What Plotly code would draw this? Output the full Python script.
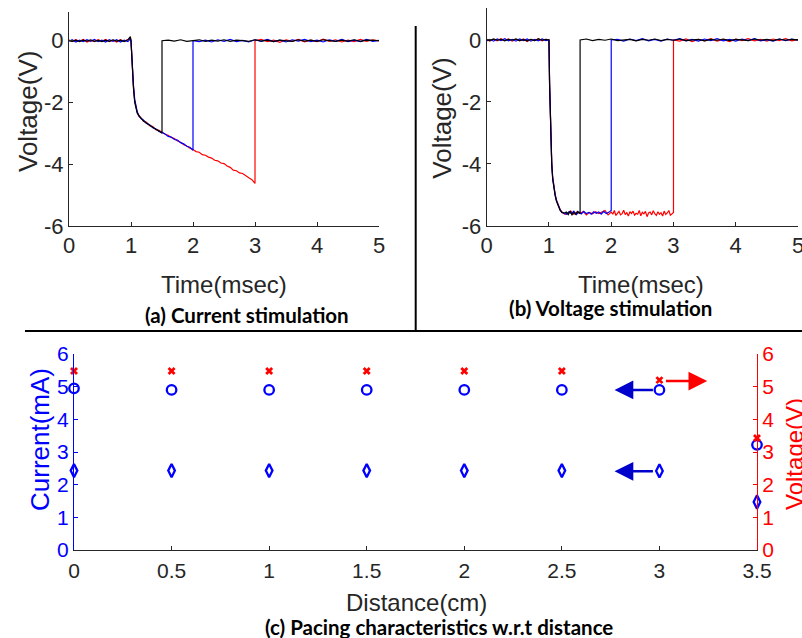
import plotly.graph_objects as go

W, H = 802, 638
def px(x): return x / W
def py(y): return 1 - y / H

# ---------------- Panel (a): current stimulation ----------------
A_pre_t = [0.00,0.05,0.11,0.17,0.23,0.29,0.35,0.41,0.47,0.53,0.59,0.65,0.71,0.77,0.83,0.89,0.95,0.99]
A_red_pre = [0.02,-0.03,0.03,-0.02,0.04,-0.04,0.01,-0.03,0.03,-0.02,0.04,-0.03,0.02,-0.04,0.03,-0.02,0.04,0.08]
A_blue_pre = [-0.02,0.03,-0.04,0.02,-0.03,0.03,-0.02,0.04,-0.03,0.02,-0.04,0.03,-0.02,0.03,-0.04,0.02,-0.03,0.06]
A_black_pre = [0.01,-0.02,0.02,-0.03,0.02,-0.01,0.03,-0.02,0.01,-0.03,0.02,-0.02,0.03,-0.01,0.02,-0.03,0.03,0.13]

A_fall_t = [1.00,1.02,1.04,1.06,1.08,1.10,1.13,1.16,1.20,1.25,1.30,1.35,1.40,1.45,1.50]
A_red_fall = [0.0,-0.85,-1.5,-1.95,-2.2,-2.32,-2.42,-2.49,-2.6,-2.64,-2.75,-2.78,-2.88,-2.9,-2.98]
A_blue_fall = [0.0,-0.8,-1.45,-1.9,-2.18,-2.3,-2.44,-2.52,-2.57,-2.68,-2.72,-2.82,-2.85,-2.94,-2.97]
A_black_fall = [0.0,-0.9,-1.55,-2.0,-2.22,-2.34,-2.45,-2.5,-2.6,-2.67,-2.74,-2.8,-2.87,-2.92,-3.0]

A_blue_mid_t = [1.55,1.60,1.65,1.70,1.75,1.80,1.85,1.90,1.95,2.00]
A_blue_mid = [-3.02,-3.1,-3.12,-3.2,-3.22,-3.3,-3.34,-3.42,-3.45,-3.55]

A_red_mid_t = [1.55,1.60,1.65,1.70,1.75,1.80,1.85,1.90,1.95,2.00,2.05,2.10,2.15,2.20,2.25,
               2.30,2.35,2.40,2.45,2.50,2.55,2.60,2.65,2.70,2.75,2.80,2.85,2.90,2.95,3.00]
A_red_mid = [-3.03,-3.06,-3.13,-3.17,-3.25,-3.29,-3.37,-3.41,-3.48,-3.52,-3.59,-3.61,-3.69,-3.71,-3.77,
             -3.8,-3.87,-3.89,-3.96,-3.98,-4.06,-4.1,-4.19,-4.21,-4.28,-4.3,-4.38,-4.44,-4.5,-4.62]

black_post_t = [1.5,1.6,1.7,1.8,1.9,2.0,2.1,2.2,2.3,2.4,2.5,2.6,2.7,2.8,2.9,3.0,3.1,3.2,3.3,3.4,
                3.5,3.6,3.7,3.8,3.9,4.0,4.1,4.2,4.3,4.4,4.5,4.6,4.7,4.8,4.9,5.0]
blue_post_t = [2.0,2.1,2.2,2.3,2.4,2.5,2.6,2.7,2.8,2.9,3.0,3.1,3.2,3.3,3.4,
               3.5,3.6,3.7,3.8,3.9,4.0,4.1,4.2,4.3,4.4,4.5,4.6,4.7,4.8,4.9,5.0]
red_post_t = [3.0,3.1,3.2,3.3,3.4,3.5,3.6,3.7,3.8,3.9,4.0,4.1,4.2,4.3,4.4,4.5,4.6,4.7,4.8,4.9,5.0]

A_black_post = [0.0,0.02,-0.01,0.03,-0.02,0.01,0.03,-0.02,0.02,-0.01,0.03,-0.02,0.02,0.0,-0.02,0.03,-0.01,0.02,
                -0.03,0.02,0.01,-0.02,0.03,-0.01,0.02,-0.02,0.03,0.0,-0.02,0.02,-0.01,0.03,-0.02,0.02,0.01,0.0]
A_blue_post = [0.0,-0.03,0.02,-0.04,0.03,-0.02,0.04,-0.03,0.01,-0.04,0.03,-0.02,0.04,-0.03,0.02,-0.04,
               0.03,-0.01,0.04,-0.03,0.02,-0.04,0.03,-0.02,0.04,-0.03,0.02,-0.03,0.04,-0.02,0.01]
A_red_post = [0.0,0.04,-0.03,0.02,-0.05,0.03,-0.02,0.04,-0.04,0.02,-0.03,0.05,-0.02,0.03,-0.04,0.02,
              -0.03,0.04,-0.02,0.03,-0.01]

# ---------------- Panel (b): voltage stimulation ----------------
B_pre_t = [0.00,0.05,0.11,0.17,0.23,0.29,0.35,0.41,0.47,0.53,0.59,0.65,0.71,0.77,0.83,0.89,0.95,0.99]
B_red_pre = [0.01,-0.04,0.02,-0.03,0.04,-0.02,0.03,-0.04,0.02,-0.03,0.03,-0.05,0.02,-0.02,0.04,-0.03,0.02,0.0]
B_blue_pre = [-0.03,0.02,-0.04,0.03,-0.02,0.04,-0.03,0.02,-0.04,0.03,-0.02,0.03,-0.04,0.02,-0.03,0.03,-0.02,0.0]
B_black_pre = [0.02,-0.02,0.03,-0.01,0.02,-0.03,0.02,-0.01,0.03,-0.02,0.01,-0.03,0.02,-0.02,0.03,-0.01,0.02,0.0]

B_fall_t = [1.00,1.01,1.02,1.03,1.045,1.06,1.08,1.10,1.12,1.15,1.18,1.21,1.25]
B_red_fall = [0.0,-1.35,-2.25,-2.95,-3.95,-4.42,-4.78,-4.98,-5.16,-5.34,-5.47,-5.55,-5.62]
B_blue_fall = [0.0,-1.4,-2.3,-3.0,-4.0,-4.45,-4.8,-5.0,-5.18,-5.35,-5.48,-5.56,-5.6]
B_black_fall = [0.0,-1.45,-2.35,-3.05,-4.05,-4.5,-4.83,-5.03,-5.2,-5.37,-5.5,-5.57,-5.58]

B_black_plat_t = [1.28,1.31,1.34,1.37,1.40,1.43,1.46,1.50]
B_black_plat = [-5.55,-5.63,-5.52,-5.64,-5.56,-5.62,-5.53,-5.6]

B_blue_plat_t = [1.28,1.32,1.36,1.40,1.44,1.48,1.52,1.56,1.60,1.64,1.68,1.72,1.76,1.80,1.84,1.88,1.92,1.96,2.00]
B_blue_plat = [-5.62,-5.54,-5.6,-5.52,-5.63,-5.55,-5.61,-5.53,-5.6,-5.56,-5.62,-5.54,-5.59,-5.55,-5.62,-5.53,-5.6,-5.56,-5.5]

B_red_plat_t = [1.30,1.35,1.40,1.45,1.50,1.55,1.60,1.65,1.70,1.75,1.80,1.85,1.90,1.95,
                2.000,2.025,2.050,2.075,2.100,2.125,2.150,2.175,2.200,2.225,2.250,2.275,2.300,2.325,
                2.350,2.375,2.400,2.425,2.450,2.475,2.500,2.525,2.550,2.575,2.600,2.625,2.650,2.675,
                2.700,2.725,2.750,2.775,2.800,2.825,2.850,2.875,2.900,2.925,2.950,2.975,3.000]
B_red_plat = [-5.6,-5.52,-5.62,-5.55,-5.6,-5.53,-5.64,-5.56,-5.61,-5.54,-5.6,-5.55,-5.5,-5.64,
              -5.55,-5.62,-5.5,-5.66,-5.58,-5.53,-5.64,-5.6,-5.49,-5.63,-5.57,-5.68,-5.54,-5.6,
              -5.52,-5.65,-5.59,-5.62,-5.5,-5.67,-5.56,-5.61,-5.53,-5.7,-5.58,-5.55,-5.64,-5.51,
              -5.6,-5.66,-5.54,-5.62,-5.57,-5.68,-5.52,-5.63,-5.58,-5.5,-5.65,-5.6,-5.56]

B_black_post = [0.0,0.03,-0.02,0.02,-0.01,0.03,-0.02,0.01,0.02,-0.03,0.02,-0.01,0.03,-0.02,0.02,-0.01,0.03,-0.02,
                0.01,0.02,-0.03,0.02,-0.01,0.03,-0.02,0.02,0.0,-0.02,0.03,-0.01,0.02,-0.02,0.03,-0.01,0.02,0.0]
B_blue_post = [0.0,0.02,-0.04,0.03,-0.02,0.04,-0.03,0.02,-0.04,0.03,-0.01,0.04,-0.03,0.02,-0.04,0.03,
               -0.02,0.04,-0.03,0.02,-0.04,0.03,-0.02,0.04,-0.03,0.01,-0.04,0.03,-0.02,0.03,-0.01]
B_red_post = [0.0,-0.04,0.03,-0.05,0.02,-0.03,0.04,-0.04,0.02,-0.05,0.03,-0.02,0.04,-0.03,0.02,-0.04,
              0.03,-0.02,0.04,-0.03,0.01]

top_x_ticks = [0, 1, 2, 3, 4, 5]
top_y_ticks = [-6, -4, -2, 0]
top_y_ticklabels = ["-6", "-4", "-2", "0"]

# ---------------- Panel (c): pacing characteristics ----------------
distance_cm = [0, 0.5, 1, 1.5, 2, 2.5, 3, 3.5]
voltage_V = [5.48, 5.48, 5.48, 5.48, 5.48, 5.48, 5.2, 3.43]
current_circle_mA = [4.95, 4.9, 4.9, 4.9, 4.9, 4.9, 4.9, 3.22]
current_diamond_mA = [2.43, 2.43, 2.43, 2.43, 2.43, 2.43, 2.42, 1.47]
x_ticks_c = [0, 0.5, 1, 1.5, 2, 2.5, 3, 3.5]
x_ticklabels_c = ["0", "0.5", "1", "1.5", "2", "2.5", "3", "3.5"]
y_ticks_c = [0, 1, 2, 3, 4, 5, 6]
# arrows: (tail_x, tail_y, head_x, head_y)
arrow_circle = (3.0, 4.9, 2.77, 4.9)
arrow_diamond = (3.0, 2.41, 2.77, 2.41)
arrow_voltage = (3.0, 5.17, 3.245, 5.17)

RED, BLUE, BLACK = "#FF0000", "#0000FF", "#000000"
GRAY = "#262626"
FONT = "Liberation Sans, Arial, Helvetica, sans-serif"
CAP_FONT = "Lato, Open Sans, sans-serif"

fig = go.Figure()
LW = 1.2

def add_line(t, v, color, xa, ya):
    fig.add_trace(go.Scatter(x=t, y=v, mode="lines", line=dict(color=color, width=LW),
                             xaxis=xa, yaxis=ya, hoverinfo="skip"))

# panel (a)
add_line(A_pre_t + A_fall_t + A_red_mid_t + red_post_t,
         A_red_pre + A_red_fall + A_red_mid + A_red_post, RED, "x", "y")
add_line(A_pre_t + A_fall_t + A_blue_mid_t + blue_post_t,
         A_blue_pre + A_blue_fall + A_blue_mid + A_blue_post, BLUE, "x", "y")
add_line(A_pre_t + A_fall_t + black_post_t,
         A_black_pre + A_black_fall + A_black_post, BLACK, "x", "y")

# panel (b)
add_line(B_pre_t + B_fall_t + B_red_plat_t + red_post_t,
         B_red_pre + B_red_fall + B_red_plat + B_red_post, RED, "x2", "y2")
add_line(B_pre_t + B_fall_t + B_blue_plat_t + blue_post_t,
         B_blue_pre + B_blue_fall + B_blue_plat + B_blue_post, BLUE, "x2", "y2")
add_line(B_pre_t + B_fall_t + B_black_plat_t + black_post_t,
         B_black_pre + B_black_fall + B_black_plat + B_black_post, BLACK, "x2", "y2")

# panel (c)
fig.add_trace(go.Scatter(x=distance_cm, y=current_circle_mA, mode="markers", xaxis="x3", yaxis="y3",
                         marker=dict(symbol="circle-open", size=9.5, color=BLUE, line=dict(width=2.3, color=BLUE)),
                         cliponaxis=False, hoverinfo="skip"))
fig.add_trace(go.Scatter(x=distance_cm, y=current_diamond_mA, mode="markers", xaxis="x3", yaxis="y3",
                         marker=dict(symbol="diamond-tall-open", size=9.5, color=BLUE, line=dict(width=2.3, color=BLUE)),
                         cliponaxis=False, hoverinfo="skip"))
fig.add_trace(go.Scatter(x=distance_cm, y=voltage_V, mode="markers", xaxis="x3", yaxis="y4",
                         marker=dict(symbol="x-thin-open", size=6, color=RED, line=dict(width=2.8, color=RED)),
                         cliponaxis=False, hoverinfo="skip"))

def top_xaxis(domain, anchor):
    return dict(domain=domain, anchor=anchor, range=[0, 5], tickvals=top_x_ticks,
                showline=True, linecolor=GRAY, linewidth=1, ticks="inside", ticklen=4, tickcolor=GRAY,
                tickfont=dict(family=FONT, size=22, color=GRAY), showgrid=False, zeroline=False,
                mirror=False, automargin=False, ticklabeloverflow="allow")

def top_yaxis(domain, anchor, top):
    return dict(domain=domain, anchor=anchor, range=[-6, top], tickvals=top_y_ticks,
                ticktext=top_y_ticklabels,
                showline=True, linecolor=GRAY, linewidth=1, ticks="inside", ticklen=4, tickcolor=GRAY,
                tickfont=dict(family=FONT, size=22, color=GRAY), showgrid=False, zeroline=False,
                automargin=False, ticklabeloverflow="allow")

fig.update_layout(
    width=W, height=H, margin=dict(l=0, r=0, t=0, b=0, autoexpand=False),
    paper_bgcolor="white", plot_bgcolor="rgba(0,0,0,0)", showlegend=False,
    xaxis=top_xaxis([px(69), px(379)], "y"),
    yaxis=top_yaxis([py(226), py(12.3)], "x", 0.92),
    xaxis2=top_xaxis([px(486.7), px(798)], "y2"),
    yaxis2=top_yaxis([py(226), py(8)], "x2", 1.03),
    xaxis3=dict(domain=[px(74), px(757)], anchor="y3", range=[0, 3.5], tickvals=x_ticks_c,
                ticktext=x_ticklabels_c, showline=True, linecolor=GRAY, linewidth=1, ticks="inside",
                ticklen=4, tickcolor=GRAY, tickfont=dict(family=FONT, size=21, color=GRAY),
                showgrid=False, zeroline=False, automargin=False, ticklabelstandoff=2,
                ticklabeloverflow="allow"),
    yaxis3=dict(domain=[py(550), py(354)], anchor="x3", range=[0, 6], tickvals=y_ticks_c,
                showline=True, linecolor=BLUE, linewidth=1, ticks="inside", ticklen=4, tickcolor=BLUE,
                tickfont=dict(family=FONT, size=21, color=BLUE), showgrid=False, zeroline=False,
                automargin=False, ticklabeloverflow="allow"),
    yaxis4=dict(overlaying="y3", anchor="x3", side="right", range=[0, 6], tickvals=y_ticks_c,
                showline=True, linecolor=RED, linewidth=1, ticks="inside", ticklen=4, tickcolor=RED,
                tickfont=dict(family=FONT, size=21, color=RED), showgrid=False, zeroline=False,
                automargin=False, ticklabeloverflow="allow"),
)

ann = []
def label(text, x, y, size, color=GRAY, angle=0, family=FONT, weight="normal"):
    ann.append(dict(text=text, x=px(x), y=py(y), xref="paper", yref="paper", showarrow=False,
                    textangle=angle, xanchor="center", yanchor="middle",
                    font=dict(family=family, size=size, color=color, weight=weight)))

label("Voltage(V)", 28, 112, 26, angle=-90)
label("Voltage(V)", 441.7, 118, 26, angle=-90)
label("Time(msec)", 224, 284, 24)
label("Time(msec)", 641, 284, 24)
label("(a) Current stimulation", 247, 315, 20.5, color="black", family=CAP_FONT, weight="bold")
label("(b) Voltage stimulation", 610, 308, 20.5, color="black", family=CAP_FONT, weight="bold")
label("Distance(cm)", 416, 602, 24)
label("Current(mA)", 40, 440, 26, color=BLUE, angle=-90)
label("Voltage(V)", 794, 454, 24, color=RED, angle=-90)
label("(c) Pacing characteristics w.r.t distance", 439, 627, 20.5, color="black", family=CAP_FONT, weight="bold")

def arrow(spec, color, ya):
    tx, ty, hx, hy = spec
    ann.append(dict(x=hx, y=hy, ax=tx, ay=ty, xref="x3", yref=ya, axref="x3", ayref=ya,
                    showarrow=True, arrowhead=2, arrowsize=1.5, arrowwidth=2.5, arrowcolor=color,
                    text="", startstandoff=5))

arrow(arrow_circle, "#0000CC", "y3")
arrow(arrow_diamond, "#0000CC", "y3")
arrow(arrow_voltage, RED, "y4")

fig.update_layout(annotations=ann)

fig.add_shape(type="line", xref="paper", yref="paper", x0=px(415.7), x1=px(415.7), y0=py(26), y1=py(331),
              line=dict(color="black", width=2))
fig.add_shape(type="line", xref="paper", yref="paper", x0=px(25), x1=1, y0=py(331), y1=py(331),
              line=dict(color="black", width=2))

fig.write_html("out.html", config={"displayModeBar": False, "staticPlot": True},
               post_script="document.body.style.margin='0px';document.body.style.overflow='hidden';")
